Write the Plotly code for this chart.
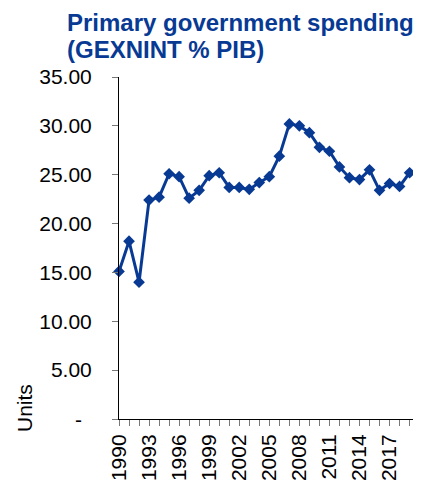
import plotly.graph_objects as go

years = list(range(1990, 2022))
values = [15.1, 18.2, 14.0, 22.4, 22.7, 25.1, 24.8, 22.6, 23.4, 24.9, 25.2, 23.7,
          23.7, 23.5, 24.2, 24.8, 26.9, 30.2, 30.0, 29.3, 27.8, 27.4, 25.8, 24.7,
          24.5, 25.5, 23.4, 24.1, 23.8, 25.2, 25.0, 24.8]
ytick_vals = [0, 5, 10, 15, 20, 25, 30, 35]
ytick_text = ["", "5.00", "10.00", "15.00", "20.00", "25.00", "30.00", "35.00"]
zero_label = "-"
xtick_vals = list(range(1990, 2021, 3))
xtick_text = [str(v) for v in xtick_vals]
title_lines = ["Primary government spending", "(GEXNINT % PIB)"]

BLUE = "#083a94"
FONT = "Arial, Liberation Sans, sans-serif"

# page body has an 8px margin: figure coords = screen coords - 8
W, H = 413, 476
PL, PT, PH = 111, 69, 342
PW = W - PL
XMAX = 1990 + PW / 10.02

def px(x):
    return (x - PL) / PW

def py(y):
    return (PT + PH - y) / PH

fig = go.Figure()
fig.add_trace(go.Scatter(
    x=years, y=values, mode="lines+markers",
    line=dict(color=BLUE, width=3),
    marker=dict(symbol="diamond", size=9, color=BLUE),
    showlegend=False, cliponaxis=False,
))

fig.update_layout(
    width=W, height=H,
    margin=dict(l=PL, r=0, t=PT, b=H - PT - PH, autoexpand=False),
    paper_bgcolor="white", plot_bgcolor="white",
    font=dict(family=FONT, size=21, color="black"),
    xaxis=dict(
        range=[1990, XMAX], automargin=False,
        tickvals=xtick_vals, ticktext=xtick_text, tickangle=-90,
        ticks="outside", ticklen=6, tickcolor="#777777",
        minor=dict(dtick=1, tick0=1990, ticks="outside", ticklen=6, tickcolor="#777777"),
        showline=True, linecolor="black", linewidth=1,
        showgrid=False, zeroline=False,
        tickfont=dict(size=21),
    ),
    yaxis=dict(
        range=[0, 35], automargin=False,
        tickvals=ytick_vals, ticktext=ytick_text,
        ticks="outside", ticklen=6, tickcolor="#777777",
        showline=True, linecolor="black", linewidth=1,
        showgrid=False, zeroline=False,
        tickfont=dict(size=21),
        ticklabelstandoff=16,
    ),
    annotations=[
        dict(
            text="<b>%s</b>" % title_lines[0],
            showarrow=False, align="left",
            xref="paper", yref="paper",
            x=px(57), y=py(-1),
            xanchor="left", yanchor="top",
            font=dict(family=FONT, size=24, color=BLUE),
        ),
        dict(
            text="<b>%s</b>" % title_lines[1],
            showarrow=False, align="left",
            xref="paper", yref="paper",
            x=px(57), y=py(26),
            xanchor="left", yanchor="top",
            font=dict(family=FONT, size=24, color=BLUE),
        ),
        dict(
            text=zero_label, showarrow=False,
            xref="paper", yref="y",
            x=px(70.5), y=0,
            xanchor="center", yanchor="middle",
            font=dict(size=21, color="black"),
        ),
        dict(
            text="Units", textangle=-90, showarrow=False,
            xref="paper", yref="paper",
            x=px(16.5), y=py(400.5),
            xanchor="center", yanchor="middle",
            font=dict(size=21, color="black"),
        ),
    ],
)

fig.write_html("out.html")
